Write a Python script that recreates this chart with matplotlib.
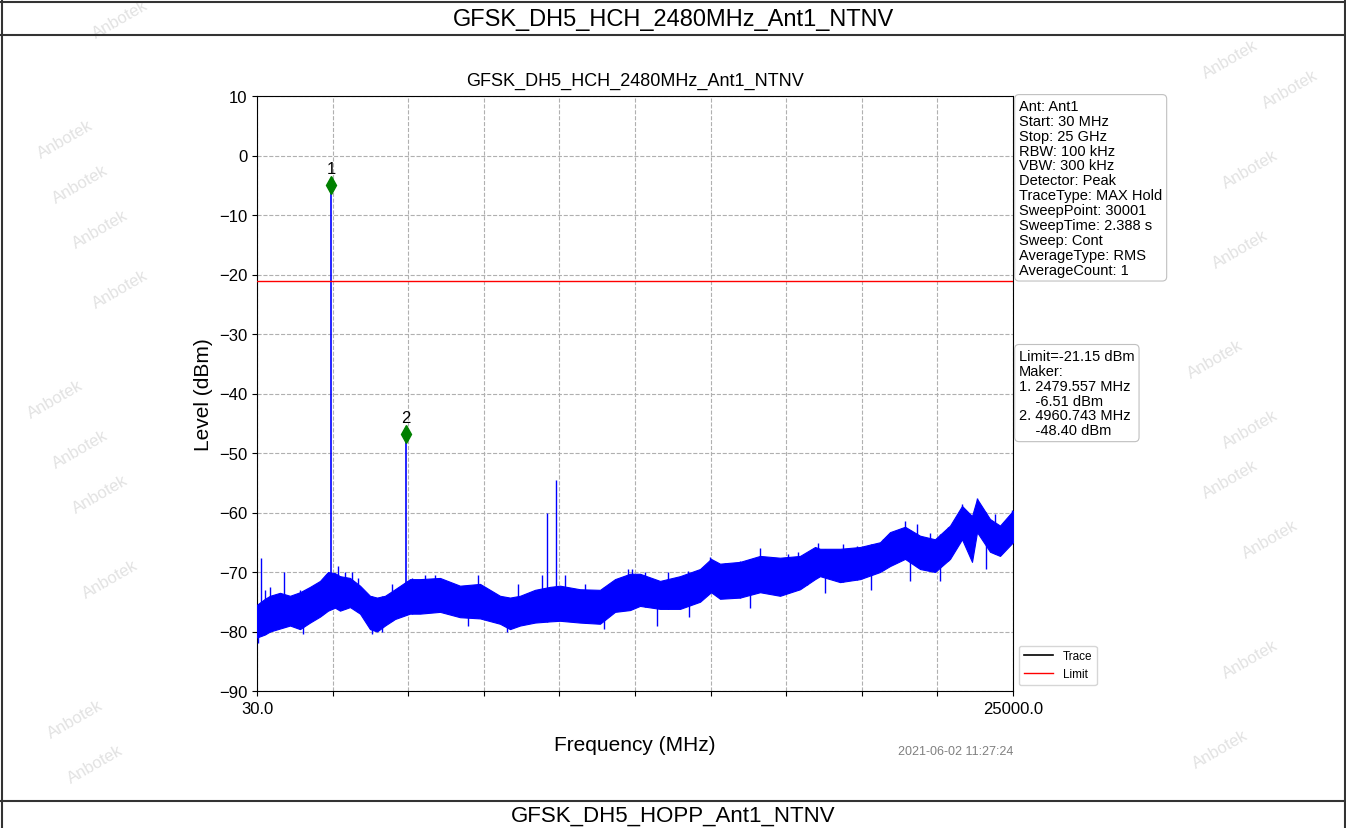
import numpy as np
import matplotlib
matplotlib.use("Agg")
import matplotlib.pyplot as plt

plt.rcParams['font.family'] = ['Liberation Sans', 'DejaVu Sans']

# Report / chart text
table_title = "GFSK_DH5_HCH_2480MHz_Ant1_NTNV"
next_title = "GFSK_DH5_HOPP_Ant1_NTNV"
chart_title = "GFSK_DH5_HCH_2480MHz_Ant1_NTNV"
timestamp = "2021-06-02 11:27:24"
info_lines = ["Ant: Ant1", "Start: 30 MHz", "Stop: 25 GHz", "RBW: 100 kHz",
              "VBW: 300 kHz", "Detector: Peak", "TraceType: MAX Hold",
              "SweepPoint: 30001", "SweepTime: 2.388 s", "Sweep: Cont",
              "AverageType: RMS", "AverageCount: 1"]
limit_level = -21.15
marker_freq = [2479.557, 4960.743]
marker_level = [-6.51, -48.40]
marker_plot_level = [-4.9, -46.8]   # where the diamonds sit on the plot

# Noise floor envelope (MHz, dBm)
band_f = [30, 294, 459, 790, 1120, 1450, 1781, 2111, 2375, 2606, 2771, 3102,
          3432, 3762, 3994, 4258, 4588, 5083, 5414, 6074, 6735, 7396, 8056,
          8386, 8717, 9212, 9708, 10038, 10699, 11359, 11855, 12350, 12680,
          13341, 14002, 14663, 15026, 15323, 15983, 16644, 17305, 17965,
          18461, 18626, 19287, 19947, 20608, 20938, 21434, 21929, 22424,
          22920, 23316, 23646, 23812, 24241, 24571, 25000]
band_hi = [-75.5, -74.5, -74.0, -73.5, -74.0, -73.4, -72.5, -71.5, -70.0, -70.2,
           -70.7, -71.0, -72.3, -74.0, -74.3, -74.0, -72.9, -71.2, -71.2, -71.0,
           -72.3, -72.0, -74.0, -74.3, -74.0, -73.0, -72.5, -72.3, -72.9, -73.0,
           -71.2, -70.3, -70.3, -71.5, -70.7, -69.5, -67.8, -68.6, -68.3, -67.3,
           -67.6, -67.3, -65.8, -66.1, -66.1, -65.8, -65.0, -63.3, -62.4, -63.9,
           -64.5, -62.2, -58.9, -60.6, -57.7, -61.1, -62.2, -59.7]
band_lo = [-81.0, -80.5, -80.0, -79.5, -79.0, -79.6, -78.5, -77.5, -76.5, -76.0,
           -76.5, -75.9, -77.0, -79.6, -80.0, -79.0, -77.9, -77.0, -77.0, -76.7,
           -77.6, -77.8, -78.7, -79.6, -79.0, -78.5, -78.3, -78.2, -78.5, -78.7,
           -76.7, -76.4, -75.7, -76.2, -76.2, -75.0, -73.4, -74.5, -74.3, -73.4,
           -74.0, -72.9, -71.2, -70.7, -71.7, -71.2, -70.0, -69.0, -67.8, -69.5,
           -70.0, -67.8, -64.5, -68.3, -63.3, -66.6, -67.3, -65.0]

# Narrow spurs sticking up out of the noise floor (MHz, dBm)
spur_f = [162, 294, 459, 922, 1450, 2177, 2705, 2936, 3168, 3366, 4489, 5150,
          5580, 5910, 7330, 8650, 9443, 9609, 9906, 10203, 10864, 12020, 12284,
          12416, 12845, 13605, 14266, 14993, 15488, 15983, 16644, 17206, 17569,
          17899, 18197, 18560, 19386, 19848, 20707, 21434, 21830, 22260, 22854,
          23316, 23812, 24406, 24967]
spur_lvl = [-67.6, -73.0, -72.5, -70.0, -73.0, -72.0, -69.0, -70.0, -70.0, -71.0,
            -72.0, -71.0, -70.5, -70.5, -70.5, -72.0, -70.5, -60.0, -54.5, -70.5,
            -72.0, -72.0, -69.5, -69.5, -70.0, -70.0, -69.8, -67.5, -68.5, -68.2,
            -66.0, -68.0, -67.0, -66.6, -67.0, -65.2, -65.3, -65.6, -64.5, -61.5,
            -61.9, -63.5, -62.5, -58.5, -57.6, -60.3, -59.5]

# Narrow dips below the noise floor (MHz, dBm)
dip_f = [60, 1550, 3830, 4160, 7000, 8300, 11500, 13242, 14300, 16300, 18800,
         20300, 21600, 22600, 24100]
dip_lvl = [-82.0, -80.5, -80.5, -80.0, -79.0, -80.0, -79.5, -79.0, -77.5, -76.0,
           -73.5, -73.0, -71.5, -71.5, -69.5]

# Watermark positions (pixels of the 1346x829 page)
wm_x = [120, 65, 80, 100, 120, 55, 80, 100, 110, 75, 95,
        1230, 1290, 1250, 1240, 1215, 1250, 1230, 1270, 1250, 1220]
wm_y = [20, 140, 185, 230, 290, 400, 450, 495, 580, 720, 765,
        60, 90, 170, 250, 360, 430, 480, 540, 660, 750]
wm_text = ["Anbotek"] * len(wm_x)

W, H = 1346, 829
fig = plt.figure(figsize=(W / 100, H / 100), dpi=100)

# watermarks
for x, y, t in zip(wm_x, wm_y, wm_text):
    fig.text(x / W, 1 - y / H, t, rotation=30, fontsize=12, color="#e2e2e2",
             ha="center", va="center", zorder=0)

# report table borders
for yy in [3, 36, 802]:
    fig.add_artist(plt.Line2D([0, 1], [1 - yy / H] * 2, color="#333333", lw=1.5))
for xx in [1.5, 1344.5]:
    fig.add_artist(plt.Line2D([xx / W] * 2, [0, 1], color="#333333", lw=1.5))
fig.text(0.5, 1 - 20 / H, table_title, ha="center", va="center", fontsize=17)
fig.text(0.5, 1 - 816 / H, next_title, ha="center", va="center", fontsize=16)

ax = fig.add_axes([257 / W, 1 - 692 / H, 756 / W, 595 / H])

ax.fill_between(band_f, band_lo, band_hi, color="blue", lw=0.8, edgecolor="blue", zorder=3)
spur_base = np.interp(spur_f, band_f, band_lo)
ax.vlines(spur_f, spur_base, spur_lvl, color="blue", lw=1.0, zorder=3)
dip_top = np.interp(dip_f, band_f, band_hi)
ax.vlines(dip_f, dip_lvl, dip_top, color="blue", lw=1.0, zorder=3)
mk_base = np.interp(marker_freq, band_f, band_lo)
ax.vlines(marker_freq, mk_base, marker_plot_level, color="blue", lw=1.2, zorder=3)

ax.plot([], [], color="black", lw=1.2, label="Trace")
ax.axhline(limit_level, color="red", lw=1.0, label="Limit", zorder=4)

ax.plot(marker_freq, marker_plot_level, "d", color="green", ms=9, zorder=5)
for i, (f, v) in enumerate(zip(marker_freq, marker_plot_level)):
    ax.text(f, v + 1.5, str(i + 1), ha="center", va="bottom", fontsize=12, zorder=5)

ax.set_xlim(30, 25000)
ax.set_ylim(-90, 10)
xt = np.linspace(30, 25000, 11)
ax.set_xticks(xt)
ax.set_xticklabels(["30.0"] + [""] * 9 + ["25000.0"], fontsize=12)
ax.set_yticks(np.arange(-90, 11, 10))
ax.tick_params(axis="y", labelsize=12)
ax.grid(True, color="#b0b0b0", ls="--", lw=0.8)
ax.set_axisbelow(True)
ax.set_title(chart_title, fontsize=13, pad=8)
ax.set_xlabel("Frequency (MHz)", fontsize=15, labelpad=14)
ax.set_ylabel("Level (dBm)", fontsize=15)

ax.text(1.0, -0.09, timestamp, transform=ax.transAxes, ha="right", va="top",
        fontsize=9, color="#808080")

box = dict(boxstyle="round,pad=0.3", fc="white", ec="#c0c0c0", lw=0.8)
ax.text(1.008, 0.995, "\n".join(info_lines), transform=ax.transAxes, ha="left",
        va="top", fontsize=10.5, bbox=box, linespacing=1.08)
mk_lines = ["Limit=%.2f dBm" % limit_level, "Maker:"]
for i, (f, v) in enumerate(zip(marker_freq, marker_level)):
    mk_lines += ["%d. %.3f MHz" % (i + 1, f), "    %.2f dBm" % v]
ax.text(1.008, 0.575, "\n".join(mk_lines), transform=ax.transAxes, ha="left",
        va="top", fontsize=10.5, bbox=box, linespacing=1.08)

ax.legend(loc="lower left", bbox_to_anchor=(1.0, -0.0), fontsize=8.5,
          frameon=True, handlelength=2.5)

fig.savefig("out.png", dpi=100)
